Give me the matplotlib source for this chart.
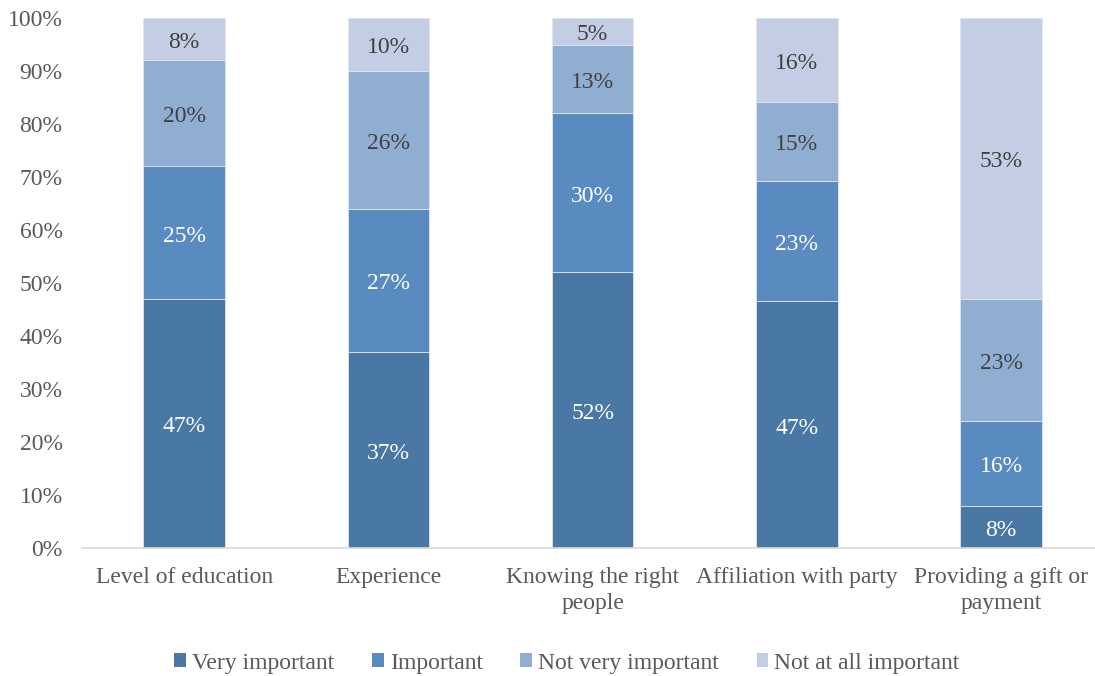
import matplotlib
matplotlib.use("Agg")
import matplotlib.pyplot as plt
import numpy as np

categories = ["Level of education", "Experience", "Knowing the right\npeople",
              "Affiliation with party", "Providing a gift or\npayment"]
series_names = ["Very important", "Important", "Not very important", "Not at all important"]
very_important = [47, 37, 52, 47, 8]
important = [25, 27, 30, 23, 16]
not_very_important = [20, 26, 13, 15, 23]
not_at_all_important = [8, 10, 5, 16, 53]
yticks = [0, 10, 20, 30, 40, 50, 60, 70, 80, 90, 100]

colors = ["#4A78A5", "#5A8BC0", "#90AED2", "#C3CEE4"]
label_colors = ["white", "white", "#404040", "#404040"]

plt.rcParams['font.family'] = ['Liberation Serif', 'DejaVu Serif']
FS = 17

fig = plt.figure(figsize=(10.95, 6.76), dpi=100)
ax = fig.add_axes([82/1095, 1-548/676, 1-82/1095, (548-18)/676])

data = np.array([very_important, important, not_very_important, not_at_all_important], dtype=float)
totals = data.sum(axis=0)
pct = data / totals * 100
x = np.arange(len(categories))
bottom = np.zeros(len(categories))
for i, name in enumerate(series_names):
    ax.bar(x, pct[i], 0.4, bottom=bottom, color=colors[i], label=name,
           edgecolor="#dfe6f0", linewidth=0.6)
    for j in range(len(categories)):
        ax.annotate(f"{int(data[i][j])}%", (x[j], bottom[j] + pct[i][j] / 2),
                    xytext=(0, -2.5), textcoords="offset points",
                    ha="center", va="center", fontsize=FS, color=label_colors[i])
    bottom += pct[i]

ax.set_xlim(-0.5, 4.46)
ax.set_ylim(0, 100)
ax.set_yticks(yticks)
ax.set_yticklabels([f"{v}%" for v in yticks])
ax.set_xticks(x)
ax.set_xticklabels(categories, linespacing=1.28)
ax.tick_params(axis='both', length=0, labelsize=FS, colors="#595959")
ax.tick_params(axis='y', pad=14)
ax.tick_params(axis='x', pad=14)
for s in ["top", "right", "left"]:
    ax.spines[s].set_visible(False)
ax.spines["bottom"].set_color("#d9d9d9")
ax.spines["bottom"].set_linewidth(1.2)

leg = fig.legend(loc="center", bbox_to_anchor=(567/1095, 1-663/676), ncol=4,
                 frameon=False, fontsize=FS, handlelength=0.5, handleheight=0.5,
                 handletextpad=0.25, columnspacing=1.6, labelcolor="#595959")
for h in leg.legend_handles:
    h.set_edgecolor("none")

fig.savefig("out.png", dpi=100)
